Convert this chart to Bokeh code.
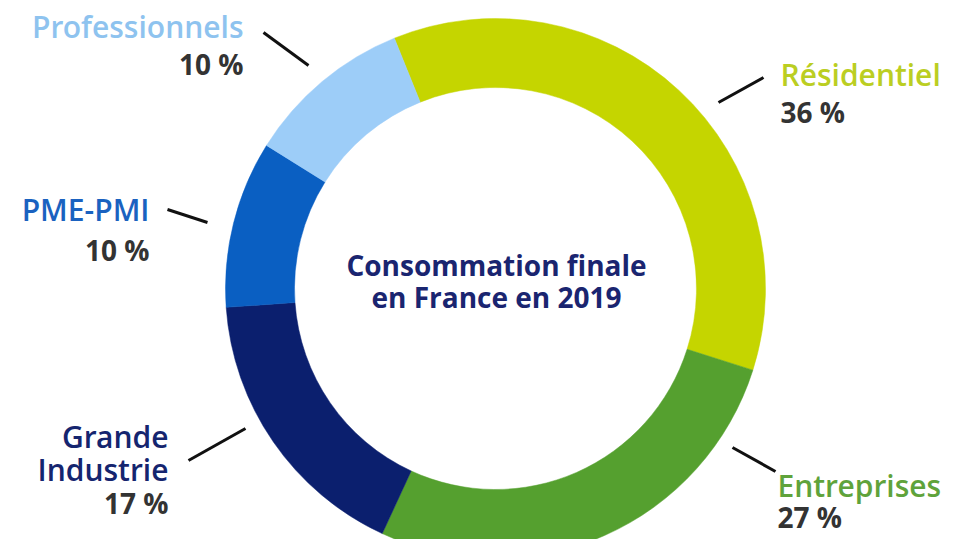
import numpy as np
from bokeh.plotting import figure
from bokeh.models import ColumnDataSource, Range1d
from bokeh.core.properties import value
from bokeh.embed import file_html
from bokeh.resources import INLINE

# ---- data ----
categories = ["Résidentiel", "Entreprises", "Grande Industrie", "PME-PMI", "Professionnels"]
shares = [36, 27, 17, 10, 10]
pct_labels = ["36 %", "27 %", "17 %", "10 %", "10 %"]
title_lines = ["Consommation finale", "en France en 2019"]

# ---- styles ----
wedge_colors = ["#C5D500", "#55A02F", "#0B1F6E", "#0A5FC2", "#9DCDF8"]
label_colors = ["#BBCE22", "#5FA33B", "#15256F", "#1A62C0", "#8EC3EF"]
H = 555  # image height for coordinate flip


def Y(img_y):
    return H - img_y


W_FIG, H_FIG = 942, 539
p = figure(width=W_FIG, height=H_FIG, output_backend="svg", toolbar_location=None,
           x_range=Range1d(0, W_FIG), y_range=Range1d(H - H_FIG, H),
           x_axis_type=None, y_axis_type=None, min_border=0)
p.outline_line_color = None
p.grid.visible = False
p.background_fill_color = "white"
p.border_fill_color = "white"

# donut geometry
cx, cy = 495, Y(288)
r_in, r_out = 201, 270
start_cw = -22.0  # degrees clockwise from top where the first slice begins

frac = np.array(shares, dtype=float) / np.sum(shares)
cum = np.concatenate([[0.0], np.cumsum(frac)]) * 360.0
theta1 = start_cw + cum[:-1]
theta2 = start_cw + cum[1:]
src = ColumnDataSource(dict(
    cat=categories,
    start=np.radians(90 - theta2),
    end=np.radians(90 - theta1),
    color=wedge_colors,
))
p.annular_wedge(x=cx, y=cy, inner_radius=r_in, outer_radius=r_out,
                start_angle="start", end_angle="end", direction="anticlock",
                fill_color="color", line_color="color", line_width=0.5, source=src)

# leader lines (image coordinates)
leaders = [((718, 102), (763, 77)),
           ((732, 447), (775, 471)),
           ((188, 460), (245, 428)),
           ((167, 209), (207, 222)),
           ((263, 32), (308, 65))]
p.segment(x0=[a[0] for a, b in leaders], y0=[Y(a[1]) for a, b in leaders],
          x1=[b[0] for a, b in leaders], y1=[Y(b[1]) for a, b in leaders],
          line_color="#111111", line_width=3)

NAME_FONT = value("'Open Sans SemiBold', 'Open Sans'")
FONT = value("Open Sans")
name_size = "30px"
pct_size = "28px"

# label layout: (name lines, name centre y, pct centre y, x, align)
layout = [
    (["Résidentiel"], [74], 111, 780, "left"),
    (["Entreprises"], [485], 516, 777, "left"),
    (["Grande", "Industrie"], [436, 469], 502, 168, "right"),
    (["PME-PMI"], [209], 249, 149, "right"),
    (["Professionnels"], [26], 63, 243, "right"),
]

for i, (lines, ys, py, x, align) in enumerate(layout):
    p.text(x=[x] * len(lines), y=[Y(b) for b in ys], text=lines,
           text_font=NAME_FONT, text_font_size=name_size, text_color=label_colors[i],
           text_align=align, text_baseline="middle")
    p.text(x=[x], y=[Y(py)], text=[pct_labels[i]],
           text_font=FONT, text_font_size=pct_size, text_font_style="bold",
           text_color="#333333", text_align=align, text_baseline="middle")

# centre title
p.text(x=[496, 496], y=[Y(264), Y(296)], text=title_lines,
       text_font=FONT, text_font_size="28px", text_font_style="bold",
       text_color="#1A2570", text_align="center", text_baseline="middle")

open("out.html", "w").write(file_html(p, INLINE))
